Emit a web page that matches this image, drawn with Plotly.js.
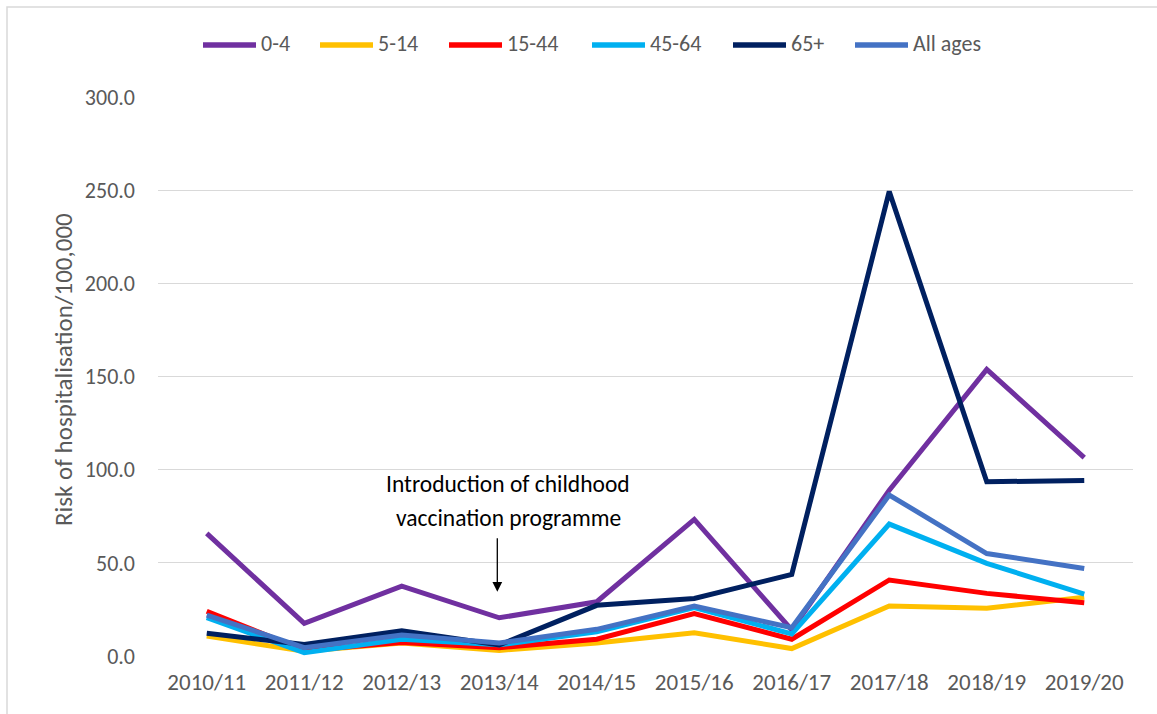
<!DOCTYPE html>
<html>
<head>
<meta charset="utf-8">
<script src="https://cdn.plot.ly/plotly-3.0.1.min.js"></script>
<style>html,body{margin:0;padding:0;background:#fff;}#chart{width:1157px;height:714px;}</style>
</head>
<body>
<div id="chart"></div>
<script>
const seasons = ["2010/11","2011/12","2012/13","2013/14","2014/15","2015/16","2016/17","2017/18","2018/19","2019/20"];
const age0_4   = [65.8, 17.5, 37.5, 20.5, 29.1, 73.3, 14.0, 89.0, 153.8, 106.5];
const age5_14  = [10.7, 2.5, 7.0, 3.0, 7.0, 12.5, 4.0, 26.8, 25.6, 31.5];
const age15_44 = [24.0, 3.0, 7.2, 4.5, 9.0, 22.8, 9.0, 40.8, 33.6, 28.6];
const age45_64 = [20.6, 1.8, 9.0, 6.0, 13.0, 26.0, 11.8, 70.8, 49.7, 33.2];
const age65    = [12.2, 6.2, 13.6, 5.9, 27.2, 30.9, 43.8, 249.3, 93.5, 94.2];
const allAges  = [22.0, 4.5, 11.3, 7.0, 14.3, 26.8, 15.2, 86.4, 55.0, 47.0];
const seriesNames = ["0-4","5-14","15-44","45-64","65+","All ages"];
const yTicks = [0, 50, 100, 150, 200, 250, 300];

const colors = ["#7030A0","#FFC000","#FF0000","#00B0F0","#002060","#4472C4"];
const allData = [age0_4, age5_14, age15_44, age45_64, age65, allAges];
const FONT = "Carlito, Calibri, Lato, 'Open Sans', sans-serif";

// pixel -> paper helpers (plot area: x 158..1133, y 97..656)
const L = 158, R = 24, T = 97, B = 58, W = 1157, H = 714;
const PW = W - L - R, PH = H - T - B;
const px = x => (x - L) / PW;
const py = y => (T + PH - y) / PH;

const traces = allData.map((vals, i) => ({
  x: seasons, y: vals, name: seriesNames[i], type: "scatter", mode: "lines",
  line: {color: colors[i], width: 5, shape: "linear"},
  hoverinfo: "x+y+name", showlegend: false
}));

// Manual legend (line samples + labels) at top
const legendLineStart = [201, 318, 447, 590, 731, 853];
const legendY = 45;
const shapes = [
  {type: "rect", xref: "paper", yref: "paper", x0: px(7), x1: 1.2, y0: -0.3, y1: py(7),
   line: {color: "#d9d9d9", width: 1.5}, fillcolor: "rgba(0,0,0,0)", layer: "below"}
];
const annotations = [
  {xref: "paper", yref: "paper", x: px(63), y: py(370), text: "Risk of hospitalisation/100,000",
   textangle: -90, showarrow: false, font: {family: FONT, size: 25, color: "#595959"},
   xanchor: "center", yanchor: "middle"},
  {xref: "x", yref: "y", x: 3.09, y: 92.3, text: "Introduction of childhood", showarrow: false,
   font: {family: FONT, size: 23.5, color: "#000"}, xanchor: "center", yanchor: "middle"},
  {xref: "x", yref: "y", x: 3.09, y: 74.0, text: "vaccination programme", showarrow: false,
   font: {family: FONT, size: 23.5, color: "#000"}, xanchor: "center", yanchor: "middle"},
  {xref: "x", yref: "y", x: 2.98, y: 34.5, axref: "x", ayref: "y", ax: 2.98, ay: 64.0,
   text: "", showarrow: true, arrowhead: 2, arrowsize: 1.5, arrowwidth: 1.3, arrowcolor: "#000", standoff: 0}
];
seriesNames.forEach((name, i) => {
  const x0 = legendLineStart[i];
  shapes.push({type: "line", xref: "paper", yref: "paper", x0: px(x0 + 2), x1: px(x0 + 55),
               y0: py(legendY), y1: py(legendY), line: {color: colors[i], width: 5.5}});
  annotations.push({xref: "paper", yref: "paper", x: px(x0 + 58), y: py(legendY - 1), text: name,
                    showarrow: false, xanchor: "left", yanchor: "middle",
                    font: {family: FONT, size: 22, color: "#595959"}});
});

const layout = {
  width: W, height: H,
  margin: {l: L, r: R, t: T, b: B},
  paper_bgcolor: "#fff", plot_bgcolor: "#fff",
  font: {family: FONT, color: "#595959", size: 22},
  showlegend: false,
  xaxis: {type: "category", range: [-0.5, 9.5], showgrid: false, zeroline: false, showline: false,
          ticks: "", tickfont: {family: FONT, size: 23, color: "#595959"}, ticklabelstandoff: 10,
          tickangle: 0, fixedrange: true},
  yaxis: {range: [0, 300], tickvals: yTicks, ticktext: yTicks.map(v => v.toFixed(1)),
          showgrid: true, gridcolor: "#d9d9d9", gridwidth: 1.3, zeroline: false, showline: false,
          ticks: "", tickfont: {family: FONT, size: 22, color: "#595959"}, ticklabelstandoff: 22,
          fixedrange: true},
  annotations: annotations,
  shapes: shapes
};

Plotly.newPlot("chart", traces, layout, {displayModeBar: false, staticPlot: true});
</script>
</body>
</html>
